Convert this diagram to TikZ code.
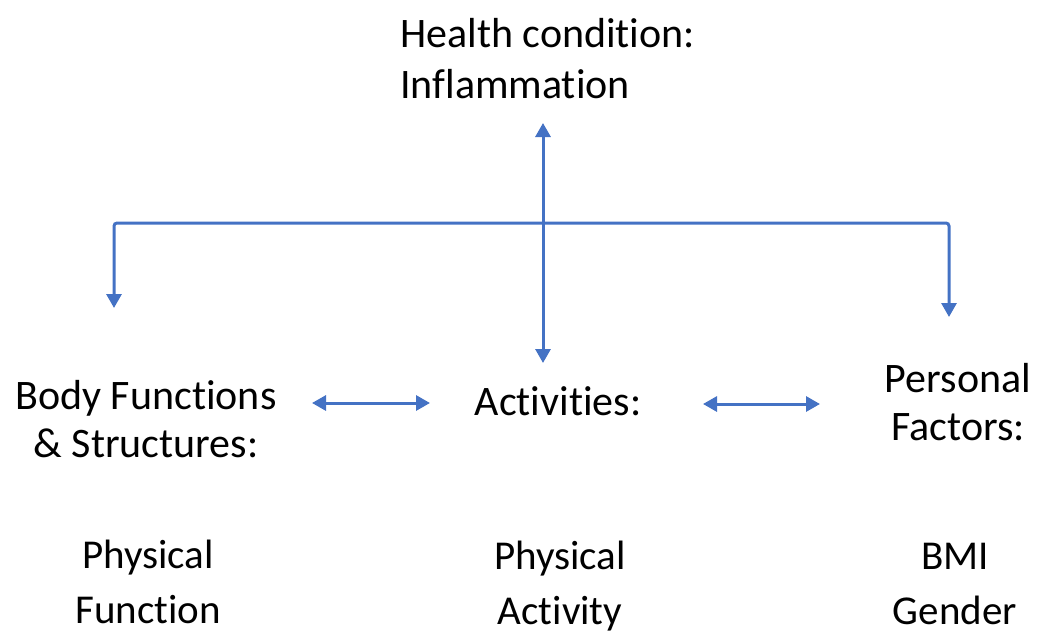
\documentclass[tikz,border=0pt]{standalone}
\usepackage{fontspec}
\setmainfont{Carlito}[RawFeature=-liga]
\usetikzlibrary{arrows.meta}
\definecolor{linkblue}{HTML}{4472C4}
\begin{document}
\begin{tikzpicture}[x=1pt,y=-1pt,
  lbl/.style={inner sep=0pt, align=center, anchor=base, font=\fontsize{42}{48}\selectfont},
  sub/.style={inner sep=0pt, align=center, anchor=base, font=\fontsize{41}{55}\selectfont},
  tip/.tip={Triangle[width=15pt,length=14pt]},
  link/.style={draw=linkblue, line width=3pt},
  both/.style={link, tip-tip}]
\useasboundingbox (0,0) rectangle (1040,634);

% labels (anchored at the baseline of their last line)
\node[lbl, anchor=base west, align=left, font=\fontsize{42}{51}\selectfont] (health) at (400,98) {Health condition:\\Inflammation};
\node[lbl] (body) at (146,457) {Body Functions\\\& Structures:};
\node[lbl] (act)  at (558,415) {Activities:};
\node[lbl] (pers) at (958,440) {Personal\\Factors:};
\node[sub] (pf)   at (148,623) {Physical\\Function};
\node[sub] (pa)   at (560,624) {Physical\\Activity};
\node[sub] (bmi)  at (955,624) {BMI\\Gender};

% connector end points
\coordinate (vtop) at (543,123);
\coordinate (vbot) at (543,363);
\coordinate (lcorner) at (114,223);
\coordinate (ltip) at (114,308);
\coordinate (rcorner) at (949,223);
\coordinate (rtip) at (949,317);
\coordinate (ba1) at (312,403);
\coordinate (ba2) at (430,403);
\coordinate (ap1) at (703,404);
\coordinate (ap2) at (820,404);

% health condition <-> activities
\draw[both] (vtop) -- (vbot);
% branch to body functions and personal factors
\draw[both, rounded corners=3pt] (ltip) -- (lcorner) -- (rcorner) -- (rtip);
% links between the three components
\draw[both] (ba1) -- (ba2);
\draw[both] (ap1) -- (ap2);
\end{tikzpicture}
\end{document}
